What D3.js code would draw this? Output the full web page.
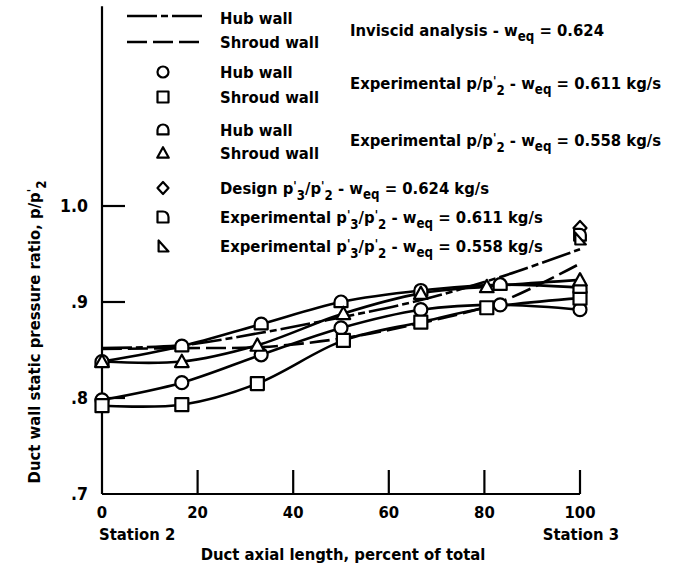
<!DOCTYPE html>
<html>
<head>
<meta charset="utf-8">
<script src="https://cdn.jsdelivr.net/npm/d3@7"></script>
<style>
  html, body { margin: 0; padding: 0; background: #fff; }
  svg { display: block; }
  text { font-family: 'DejaVu Sans Condensed', 'DejaVu Sans', sans-serif; font-weight: bold; fill: #000; }
</style>
</head>
<body>
<script>
// Measurement stations along the duct (percent of total axial length)
const hubStations    = [0, 16.7, 33.3, 50, 66.7, 83.3, 100];
const shroudStations = [0, 16.7, 32.5, 50.5, 66.7, 80.5, 100];

// Inviscid analysis, w_eq = 0.624
const hubInviscid    = [0.852, 0.855, 0.868, 0.884, 0.902, 0.926, 0.955];
const shroudInviscid = [0.851, 0.852, 0.853, 0.862, 0.878, 0.900, 0.940];

// Experimental p/p2', w_eq = 0.611 kg/s
const hub611    = [0.798, 0.816, 0.845, 0.873, 0.892, 0.897, 0.892];
const shroud611 = [0.792, 0.793, 0.815, 0.860, 0.879, 0.894, 0.904];

// Experimental p/p2', w_eq = 0.558 kg/s
const hub558    = [0.838, 0.854, 0.877, 0.900, 0.912, 0.918, 0.915];
const shroud558 = [0.838, 0.838, 0.855, 0.888, 0.909, 0.916, 0.923];

// Exit ratio p3'/p2' at station 3
const exitStation = 100;
const exitDesign624 = 0.977;
const exitExp611 = 0.970;
const exitExp558 = 0.966;

const xTicks = [0, 20, 40, 60, 80, 100];
const yTicks = [0.7, 0.8, 0.9, 1.0];
const yTickLabels = [".7", ".8", ".9", "1.0"];

const W = 673, H = 569;
const svg = d3.select("body").append("svg").attr("width", W).attr("height", H);

const x = d3.scaleLinear().domain([0, 100]).range([102, 580]);
const y = d3.scaleLinear().domain([0.7, 1.0]).range([494, 206]);

const FS = 16.5;

// ---- rich text helper: plain strings, {sub}, {sub, prime}
function rich(textSel, parts, size) {
  let shift = 0;
  parts.forEach(p => {
    if (typeof p === "string") {
      textSel.append("tspan").attr("dy", -shift).text(p);
      shift = 0;
    } else if (p.prime) {
      textSel.append("tspan").attr("dy", -4 - shift).attr("font-size", size * 0.75).text("'");
      textSel.append("tspan").attr("dy", 10).attr("font-size", size * 0.8).text(p.sub);
      shift = 6;
    } else {
      textSel.append("tspan").attr("dy", 5 - shift).attr("font-size", size * 0.8).text(p.sub);
      shift = 5;
    }
  });
  return textSel;
}

// ---- axes
const axisG = svg.append("g").attr("stroke", "#000").attr("stroke-width", 2.2).attr("fill", "none");
axisG.append("line").attr("x1", x(0)).attr("x2", x(0)).attr("y1", y(1.208)).attr("y2", y(0.7));
axisG.append("line").attr("x1", x(0)).attr("x2", x(100)).attr("y1", y(0.7)).attr("y2", y(0.7));

// inward ticks
yTicks.filter(v => v > 0.7).forEach(v => {
  axisG.append("line").attr("x1", x(0)).attr("x2", x(0) + 23).attr("y1", y(v)).attr("y2", y(v));
});
xTicks.filter(v => v > 0).forEach(v => {
  axisG.append("line").attr("x1", x(v)).attr("x2", x(v)).attr("y1", y(0.7)).attr("y2", y(0.7) - 24);
});

// tick labels
yTicks.forEach((v, i) => {
  svg.append("text").attr("x", 88).attr("y", y(v) + 6)
    .attr("text-anchor", "end").attr("font-size", FS + 1).text(yTickLabels[i]);
});
xTicks.forEach(v => {
  svg.append("text").attr("x", x(v)).attr("y", 518)
    .attr("text-anchor", "middle").attr("font-size", FS).text(v);
});
svg.append("text").attr("x", 99).attr("y", 540).attr("font-size", FS).text("Station 2");
svg.append("text").attr("x", 619).attr("y", 540).attr("text-anchor", "end").attr("font-size", FS).text("Station 3");
svg.append("text").attr("x", 343).attr("y", 560).attr("text-anchor", "middle").attr("font-size", FS)
  .text("Duct axial length, percent of total");

const yTitle = svg.append("text").attr("font-size", FS).attr("text-anchor", "middle")
  .attr("transform", "translate(40,332) rotate(-90)");
rich(yTitle, ["Duct wall static pressure ratio, p/p", {sub: "2", prime: true}], FS);

// ---- curves
const lineGen = d3.line().x(d => x(d[0])).y(d => y(d[1])).curve(d3.curveCatmullRom.alpha(0.5));
const zipPts = (xs, ys) => xs.map((v, i) => [v, ys[i]]);

const curves = svg.append("g").attr("fill", "none").attr("stroke", "#000");
curves.append("path").attr("d", lineGen(zipPts(hubStations, hubInviscid)))
  .attr("stroke-width", 2.6).attr("stroke-dasharray", "30,4,7,4");
curves.append("path").attr("d", lineGen(zipPts(hubStations, shroudInviscid)))
  .attr("stroke-width", 2.6).attr("stroke-dasharray", "20,6");
[[hubStations, hub611], [shroudStations, shroud611], [hubStations, hub558], [shroudStations, shroud558]]
  .forEach(([xs, ys]) => {
    curves.append("path").attr("d", lineGen(zipPts(xs, ys))).attr("stroke-width", 2.6);
  });

// ---- marker shapes
const R = 6.5;
const shapes = {
  circle: r => `M${r},0A${r},${r} 0 1,1 ${-r},0A${r},${r} 0 1,1 ${r},0Z`,
  square: r => `M${-r},${-r}H${r}V${r}H${-r}Z`,
  dome: r => `M${-r},${r * 0.8}V${0}A${r},${r} 0 0,1 ${r},0V${r * 0.8}Z`,
  triangle: r => `M0,${-r * 1.05}L${r * 1.05},${r * 0.85}H${-r * 1.05}Z`,
  diamond: r => `M0,${-r * 1.1}L${r},0L0,${r * 1.1}L${-r},0Z`,
  dee: r => `M${-r},${r}V${-r}H0A${r},${r} 0 0,1 ${r},0V${r}Z`,
  corner: r => `M${-r * 0.8},${-r}V${r}H${r}Z`
};

function marker(g, shape, cx, cy, r) {
  g.append("path").attr("d", shapes[shape](r))
    .attr("transform", `translate(${cx},${cy})`)
    .attr("fill", "#fff").attr("stroke", "#000").attr("stroke-width", 2.2)
    .attr("stroke-linejoin", "round");
}

const marks = svg.append("g");
hubStations.forEach((s, i) => marker(marks, "circle", x(s), y(hub611[i]), R));
shroudStations.forEach((s, i) => marker(marks, "square", x(s), y(shroud611[i]), R));
hubStations.forEach((s, i) => marker(marks, "dome", x(s), y(hub558[i]), R));
shroudStations.forEach((s, i) => marker(marks, "triangle", x(s), y(shroud558[i]), R));
marker(marks, "diamond", x(exitStation), y(exitDesign624), R);
marker(marks, "dee", x(exitStation), y(exitExp611), R * 0.9);
marker(marks, "corner", x(exitStation), y(exitExp558), R * 0.9);

// ---- legend
const lg = svg.append("g");
lg.append("line").attr("x1", 127).attr("x2", 202).attr("y1", 16).attr("y2", 16)
  .attr("stroke", "#000").attr("stroke-width", 2.6).attr("stroke-dasharray", "30,4,7,4");
lg.append("line").attr("x1", 127).attr("x2", 202).attr("y1", 42).attr("y2", 42)
  .attr("stroke", "#000").attr("stroke-width", 2.6).attr("stroke-dasharray", "20,6");

const legendRows = [
  {shape: null, yc: 18, label: "Hub wall"},
  {shape: null, yc: 42, label: "Shroud wall"},
  {shape: "circle", yc: 72, label: "Hub wall"},
  {shape: "square", yc: 97, label: "Shroud wall"},
  {shape: "dome", yc: 130, label: "Hub wall"},
  {shape: "triangle", yc: 153, label: "Shroud wall"}
];
legendRows.forEach(r => {
  if (r.shape) marker(lg, r.shape, 163, r.yc, 5.5);
  lg.append("text").attr("x", 220).attr("y", r.yc + 6).attr("font-size", FS).text(r.label);
});

const groupRows = [
  {yc: 30, parts: ["Inviscid analysis - w", {sub: "eq"}, " = 0.624"]},
  {yc: 83, parts: ["Experimental  p/p", {sub: "2", prime: true}, " - w", {sub: "eq"}, " = 0.611 kg/s"]},
  {yc: 140, parts: ["Experimental  p/p", {sub: "2", prime: true}, " - w", {sub: "eq"}, " = 0.558 kg/s"]}
];
groupRows.forEach(r => {
  rich(lg.append("text").attr("x", 350).attr("y", r.yc + 6).attr("font-size", FS), r.parts, FS);
});

const exitRows = [
  {shape: "diamond", yc: 188, parts: ["Design  p", {sub: "3", prime: true}, "/p", {sub: "2", prime: true}, " - w", {sub: "eq"}, " = 0.624 kg/s"]},
  {shape: "dee", yc: 217, parts: ["Experimental  p", {sub: "3", prime: true}, "/p", {sub: "2", prime: true}, " - w", {sub: "eq"}, " = 0.611 kg/s"]},
  {shape: "corner", yc: 246, parts: ["Experimental  p", {sub: "3", prime: true}, "/p", {sub: "2", prime: true}, " - w", {sub: "eq"}, " = 0.558 kg/s"]}
];
exitRows.forEach(r => {
  marker(lg, r.shape, 163, r.yc, 5.5);
  rich(lg.append("text").attr("x", 220).attr("y", r.yc + 6).attr("font-size", FS), r.parts, FS);
});
</script>
</body>
</html>
